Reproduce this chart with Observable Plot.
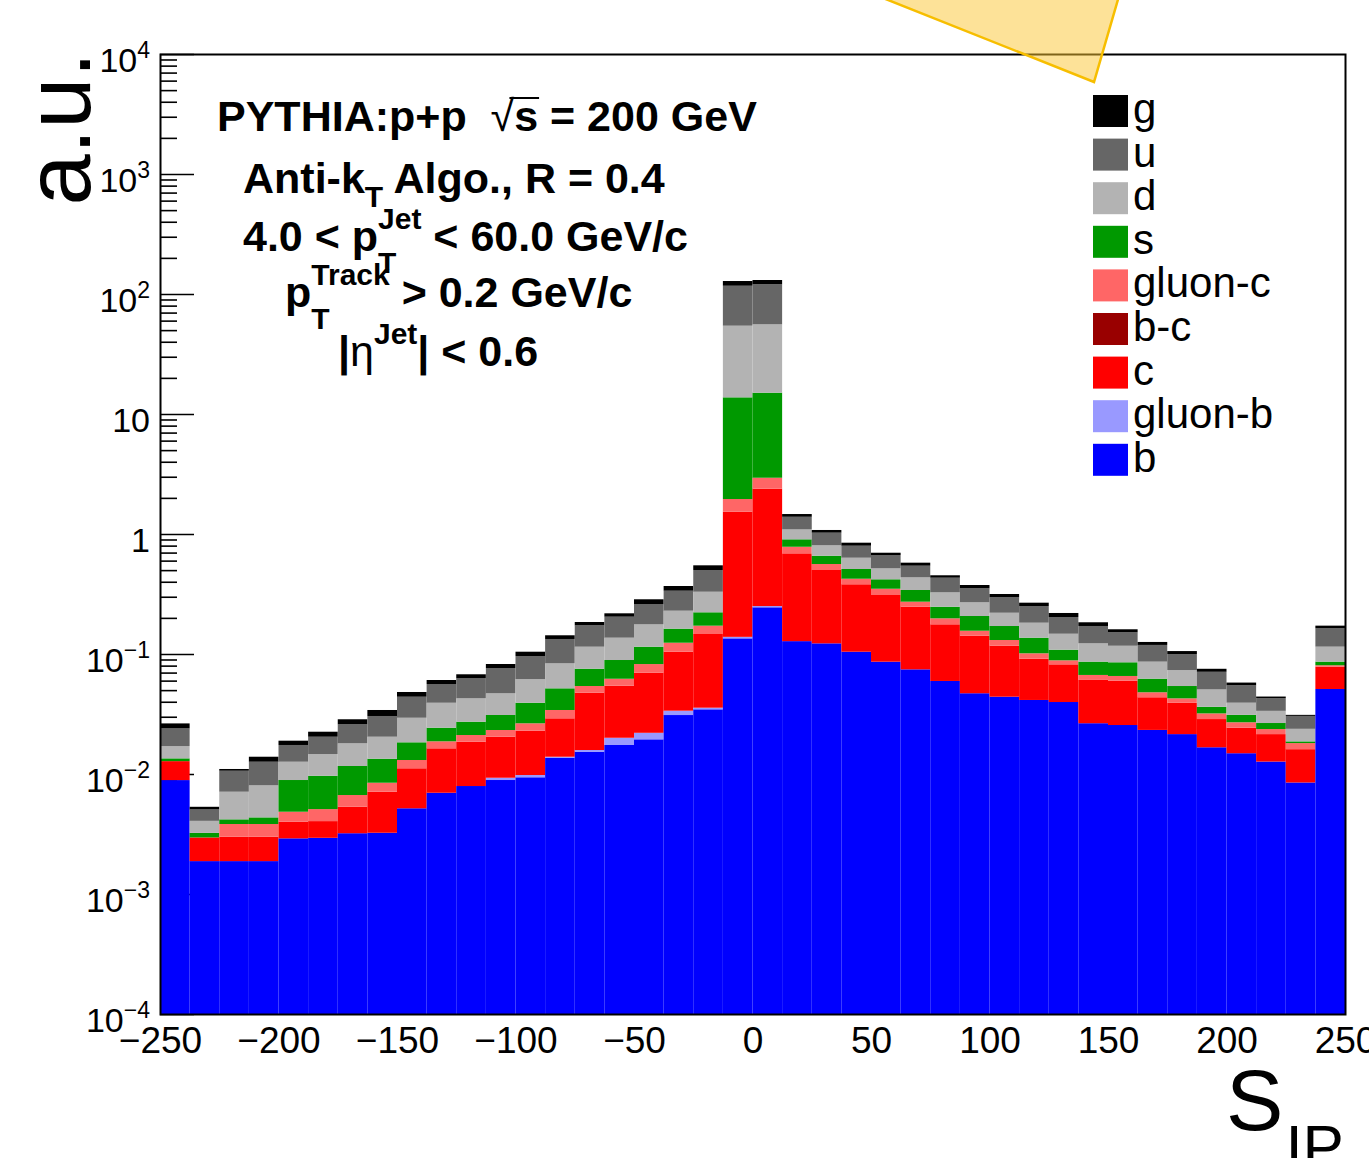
<!DOCTYPE html>
<html><head><meta charset="utf-8">
<script src="https://cdn.jsdelivr.net/npm/d3@7"></script>
<script src="https://cdn.jsdelivr.net/npm/@observablehq/plot@0.6"></script>
<style>
html,body{margin:0;padding:0;background:#fff;overflow:hidden;}
#chart svg{display:block;}
</style></head><body>
<div id="chart"></div>
<script>
// ---- data ----
const binWidth = 12.5;
const binLow = d3.range(-250, 250, binWidth); // 40 bins of S_IP
const seriesNames = ["b", "gluon-b", "c", "b-c", "gluon-c", "s", "d", "u", "g"];
const seriesColors = ["#0000ff", "#9999ff", "#ff0000", "#990000", "#ff6666", "#009900", "#b3b3b3", "#666666", "#000000"];
const legendOrder = ["g", "u", "d", "s", "gluon-c", "b-c", "c", "gluon-b", "b"];

const b = [0.0089, 0.00188, 0.00188, 0.00188, 0.00291, 0.00294, 0.00321, 0.00324, 0.00518, 0.00698,
  0.00794, 0.00891, 0.00939, 0.01368, 0.01535, 0.01745, 0.01945, 0.031, 0.0346, 0.135,
  0.245, 0.128, 0.1227, 0.1045, 0.0863, 0.0745, 0.0596, 0.0471, 0.0441, 0.0414,
  0.0398, 0.0265, 0.0256, 0.0233, 0.0215, 0.0167, 0.0149, 0.0127, 0.0085, 0.0511];
const gluonB = [0, 0, 0, 0, 0, 0, 0, 0, 0, 0,
  0, 0.0004, 0.00042, 0.00025, 0.0005, 0.0026, 0.0026, 0.0027, 0.0011, 0.004,
  0.006, 0, 0, 0, 0, 0, 0, 0, 0, 0,
  0, 0, 0, 0, 0, 0, 0, 0, 0, 0];
const c = [0.0039, 0.00108, 0.00112, 0.00112, 0.00109, 0.00111, 0.00213, 0.00388, 0.00598, 0.00939,
  0.01064, 0.01115, 0.01315, 0.01518, 0.03174, 0.03438, 0.0477, 0.0708, 0.1111, 1.396,
  2.134, 0.562, 0.3785, 0.2766, 0.2239, 0.1732, 0.1172, 0.095, 0.0731, 0.05,
  0.0422, 0.0343, 0.0343, 0.0203, 0.0177, 0.012, 0.0094, 0.0088, 0.0076, 0.0273];
const bc = [0, 0, 0, 0, 0, 0, 0, 0, 0, 0,
  0, 0, 0, 0, 0, 0, 0, 0, 0, 0,
  0, 0, 0, 0, 0, 0, 0, 0, 0, 0,
  0, 0, 0, 0, 0, 0, 0, 0, 0, 0];
const gluonC = [0, 0, 0.00083, 0.00083, 0.00085, 0.00105, 0.00134, 0.00134, 0.00192, 0.00236,
  0.00255, 0.0028, 0.0035, 0.00504, 0.00653, 0.00778, 0.0127, 0.0197, 0.0254, 0.422,
  0.559, 0.093, 0.061, 0.0429, 0.0397, 0.0252, 0.0215, 0.0142, 0.0136, 0.01,
  0.0066, 0.0061, 0.0057, 0.0044, 0.0035, 0.0033, 0.0027, 0.0022, 0.002, 0.0022];
const s = [0.0007, 0.00027, 0.00036, 0.00052, 0.00406, 0.00457, 0.00498, 0.00495, 0.00529, 0.00559,
  0.00616, 0.00777, 0.0128, 0.01761, 0.02128, 0.0269, 0.0326, 0.0384, 0.0504, 11.81,
  12.11, 0.12, 0.097, 0.0869, 0.0694, 0.0686, 0.0494, 0.051, 0.0403, 0.0354,
  0.02, 0.0195, 0.0197, 0.0143, 0.0114, 0.0043, 0.0041, 0.0029, 0.0006, 0.0058];
const d = [0.0036, 0.00084, 0.00293, 0.0037, 0.00375, 0.005, 0.00637, 0.00705, 0.01107, 0.01494,
  0.01547, 0.01602, 0.02261, 0.0319, 0.0397, 0.0477, 0.0617, 0.067, 0.1078, 40.68,
  40.86, 0.19, 0.146, 0.1237, 0.0983, 0.094, 0.0789, 0.0625, 0.0497, 0.0456,
  0.039, 0.0364, 0.0319, 0.0241, 0.0194, 0.0144, 0.0082, 0.007, 0.0051, 0.0288];
const u = [0.0069, 0.001, 0.00353, 0.00461, 0.00479, 0.00578, 0.00791, 0.00998, 0.01462, 0.01697,
  0.01994, 0.0294, 0.03437, 0.04974, 0.0583, 0.0679, 0.0826, 0.1074, 0.1708, 62.75,
  64.6, 0.299, 0.221, 0.1643, 0.1507, 0.109, 0.1059, 0.083, 0.0761, 0.0688,
  0.0558, 0.0484, 0.0345, 0.0326, 0.0264, 0.0204, 0.0156, 0.0093, 0.0067, 0.0486];
const g = [0.0024, 0.00026, 0.00036, 0.00127, 0.0015, 0.00206, 0.00264, 0.00371, 0.00418, 0.00449,
  0.00506, 0.00609, 0.00826, 0.0098, 0.0114, 0.0136, 0.0264, 0.0317, 0.0471, 11.1,
  10.3, 0.075, 0.054, 0.0475, 0.0299, 0.0323, 0.0204, 0.023, 0.0193, 0.0165,
  0.0163, 0.0126, 0.009, 0.007, 0.0059, 0.0042, 0.0029, 0.0013, 0.0006, 0.0085];

const xTicks = [-250, -200, -150, -100, -50, 0, 50, 100, 150, 200, 250];
const yMajor = [1e-4, 1e-3, 1e-2, 1e-1, 1, 10, 1e2, 1e3, 1e4];
const yTickLabels = [["10", "\u22124"], ["10", "\u22123"], ["10", "\u22122"], ["10", "\u22121"], ["1", ""], ["10", ""], ["10", "2"], ["10", "3"], ["10", "4"]];
const yMinor = yMajor.slice(0, -1).flatMap(p => [2, 3, 4, 5, 6, 7, 8, 9].map(k => k * p));

// ---- stacked rows (b at the bottom, g on top) ----
const seriesValues = [b, gluonB, c, bc, gluonC, s, d, u, g];
const yFloor = 1e-4;
const rows = [];
binLow.forEach((x0, i) => {
  let cum = 0;
  seriesValues.forEach((arr, k) => {
    const v = arr[i];
    const lo = cum;
    cum += v;
    if (v > 0) rows.push({x1: x0, x2: x0 + binWidth, y1: lo > 0 ? lo : yFloor, y2: cum, series: seriesNames[k]});
  });
});

const W = 1369, H = 1158, mL = 160, mR = 24, mT = 54, mB = 144;
const innerW = W - mL - mR;
const FONT = "'Liberation Sans', Arial, Helvetica, sans-serif";

const plot = Plot.plot({
  width: W, height: H,
  marginLeft: mL, marginRight: mR, marginTop: mT, marginBottom: mB,
  style: {fontFamily: FONT, fontSize: "37px", color: "#000", background: "#fff"},
  x: {domain: [-250, 250], ticks: xTicks, tickSize: 0, tickPadding: 12, label: null,
      tickFormat: v => v < 0 ? "\u2212" + Math.abs(v) : String(v)},
  y: {type: "log", domain: [1e-4, 1e4], axis: null},
  color: {domain: seriesNames, range: seriesColors},
  marks: [
    Plot.tickY(yMinor, {y: v => v, stroke: "#000", strokeWidth: 1.6, insetRight: innerW - 17}),
    Plot.tickY(yMajor, {y: v => v, stroke: "#000", strokeWidth: 1.6, insetRight: innerW - 34}),
    Plot.rect(rows, {x1: "x1", x2: "x2", y1: "y1", y2: "y2", fill: "series"}),
    Plot.frame({stroke: "#000", strokeWidth: 2})
  ]
});
document.getElementById("chart").append(plot);

const svg = d3.select(plot);
const yScale = plot.scale("y");

// y tick labels with superscript exponents
const gy = svg.append("g").attr("font-family", FONT).attr("font-size", 34).attr("text-anchor", "end").attr("fill", "#000");
yMajor.forEach((v, i) => {
  const [base, exp] = yTickLabels[i];
  const t = gy.append("text").attr("x", 150).attr("y", yScale.apply(v) + 18);
  t.append("tspan").text(base);
  if (exp) t.append("tspan").attr("font-size", 23).attr("dy", -14).text(exp);
});

// helpers for rich text lines
function measure(str, size, weight) {
  const t = svg.append("text").attr("font-family", FONT).attr("font-size", size).attr("text-anchor", "start")
    .attr("font-weight", weight).style("white-space", "pre").text(str);
  const w = t.node().getComputedTextLength();
  t.remove();
  return w;
}
function drawRuns(x0, baseline, runs, defSize, defWeight) {
  let cursor = x0, prevStart = x0, prevEnd = x0;
  const out = [];
  for (const r of runs) {
    const size = r.size || defSize, weight = r.weight || defWeight;
    const w = measure(r.t, size, weight);
    const start = (r.stack ? prevStart : cursor) + (r.gap || 0);
    svg.append("text").attr("x", start).attr("y", baseline + (r.shift || 0)).attr("text-anchor", "start")
      .attr("font-family", FONT).attr("font-size", size).attr("font-weight", weight)
      .attr("fill", "#000").style("white-space", "pre").text(r.t);
    out.push({start, w});
    cursor = r.stack ? Math.max(prevEnd, start + w) : start + w;
    prevStart = start; prevEnd = start + w;
  }
  return out;
}

// annotation block
const SUP = -22, SUBS = 22, SMALL = 30;
const l1 = drawRuns(217, 131, [{t: "PYTHIA:p+p  "}, {t: "\u221A", weight: "normal"}, {t: "s"}, {t: " = 200 GeV"}], 43, "bold");
svg.append("line").attr("x1", l1[1].start + l1[1].w * 0.8).attr("x2", l1[2].start + l1[2].w + 1)
  .attr("y1", 131 - 33).attr("y2", 131 - 33).attr("stroke", "#000").attr("stroke-width", 2);
drawRuns(243, 193, [{t: "Anti-k"}, {t: "T", size: SMALL, shift: 14}, {t: " Algo., R = 0.4"}], 43, "bold");
drawRuns(243, 251, [{t: "4.0 < p"}, {t: "Jet", size: SMALL, shift: SUP}, {t: "T", size: SMALL, shift: SUBS, stack: true}, {t: " < 60.0 GeV/c"}], 43, "bold");
drawRuns(285, 307, [{t: "p"}, {t: "Track", size: SMALL, shift: SUP}, {t: "T", size: SMALL, shift: SUBS, stack: true}, {t: " > 0.2 GeV/c"}], 43, "bold");
drawRuns(338, 366, [{t: "|"}, {t: "\u03B7", weight: "normal"}, {t: "Jet", size: SMALL, shift: SUP}, {t: "| < 0.6"}], 43, "bold");

// legend
const gLeg = svg.append("g");
legendOrder.forEach((name, i) => {
  const top = 95 + i * 43.6;
  gLeg.append("rect").attr("x", 1093).attr("y", top).attr("width", 35).attr("height", 32)
    .attr("fill", seriesColors[seriesNames.indexOf(name)]);
  gLeg.append("text").attr("x", 1133).attr("y", top + 28).attr("text-anchor", "start").attr("font-family", FONT)
    .attr("font-size", 42).attr("fill", "#000").text(name);
});

// axis titles
svg.append("text").attr("transform", "translate(90,52) rotate(-90)").attr("text-anchor", "end")
  .attr("font-family", FONT).attr("font-size", 92).attr("fill", "#000").text("a.u.");
drawRuns(1226, 1130, [{t: "S"}, {t: "IP", size: 62, shift: 38, gap: 2}], 86, "normal");

// decorative translucent marker at the top edge
svg.append("polygon").attr("points", "878,-4 1119,-4 1094,82")
  .attr("fill", "#fbc531").attr("fill-opacity", 0.5).attr("stroke", "#f7be00").attr("stroke-width", 2.5);
</script>
</body></html>
